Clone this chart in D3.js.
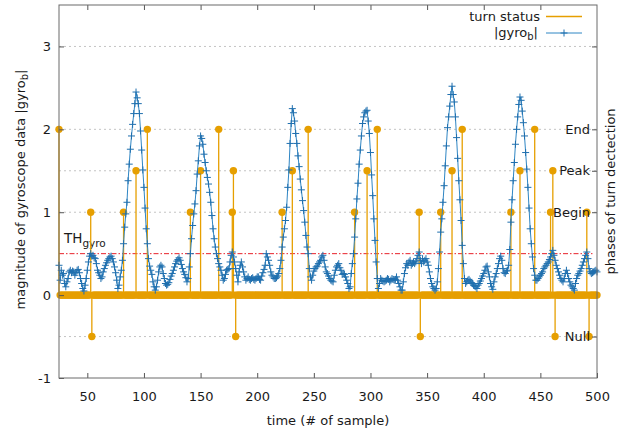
<!DOCTYPE html>
<html><head><meta charset="utf-8">
<script src="https://cdn.jsdelivr.net/npm/d3@7"></script>
<style>
body{margin:0;background:#fff}
svg{display:block}
text{font-family:"DejaVu Sans",Verdana,sans-serif;fill:#1a1a1a}
</style>
</head><body>
<svg id="chart" width="630" height="434"></svg>
<script>
// ---------------- data ----------------
const firstSample = 25;
const lastSample = 500;
// |gyro_b| for samples 25..500 (one value per sample)
const gyroValues = [
0.36,0.18,0.30,0.24,0.26,0.14,0.10,0.16,0.20,0.28,
0.30,0.27,0.29,0.28,0.24,0.27,0.30,0.31,0.27,0.20,
0.14,0.08,0.05,0.12,0.20,0.30,0.40,0.47,0.50,0.47,
0.48,0.45,0.44,0.38,0.30,0.27,0.24,0.20,0.22,0.28,
0.32,0.36,0.39,0.42,0.44,0.46,0.47,0.44,0.40,0.34,
0.27,0.18,0.08,0.12,0.22,0.30,0.42,0.62,0.82,0.98,
1.12,1.38,1.58,1.76,1.92,2.06,2.19,2.31,2.45,2.38,
2.31,2.19,1.98,1.75,1.51,1.30,1.05,0.80,0.62,0.44,
0.35,0.30,0.25,0.16,0.10,0.06,0.10,0.18,0.28,0.34,
0.36,0.34,0.26,0.20,0.14,0.12,0.13,0.15,0.19,0.23,
0.26,0.30,0.34,0.38,0.41,0.43,0.45,0.42,0.37,0.32,
0.28,0.25,0.21,0.16,0.20,0.34,0.50,0.68,0.84,0.98,
1.10,1.26,1.46,1.62,1.80,1.92,1.89,1.82,1.70,1.60,
1.50,1.42,1.34,1.24,1.12,0.96,0.80,0.68,0.58,0.50,
0.44,0.38,0.34,0.30,0.24,0.18,0.20,0.25,0.30,0.31,
0.32,0.40,0.48,0.52,0.46,0.40,0.32,0.24,0.16,0.28,
0.36,0.40,0.34,0.28,0.22,0.18,0.20,0.22,0.19,0.18,
0.20,0.21,0.19,0.18,0.20,0.22,0.22,0.19,0.18,0.23,
0.27,0.31,0.36,0.50,0.46,0.42,0.36,0.28,0.24,0.22,
0.20,0.20,0.21,0.23,0.26,0.32,0.42,0.58,0.70,0.80,
0.90,1.06,1.30,1.51,1.83,2.07,2.25,2.20,2.10,1.95,
1.83,1.68,1.55,1.40,1.27,1.14,1.02,0.88,0.72,0.58,
0.50,0.32,0.22,0.18,0.24,0.29,0.32,0.34,0.35,0.38,
0.40,0.42,0.46,0.48,0.42,0.34,0.28,0.26,0.23,0.20,
0.18,0.17,0.16,0.24,0.30,0.34,0.36,0.38,0.33,0.30,
0.25,0.26,0.25,0.22,0.18,0.14,0.08,0.10,0.26,0.38,
0.50,0.70,0.92,1.16,1.35,1.58,1.75,1.92,2.07,2.15,
2.20,2.22,2.23,2.10,1.95,1.72,1.45,1.20,0.92,0.66,
0.40,0.20,0.08,0.14,0.20,0.18,0.17,0.16,0.17,0.18,
0.20,0.19,0.16,0.18,0.20,0.19,0.18,0.19,0.22,0.18,
0.14,0.10,0.06,0.06,0.16,0.26,0.33,0.38,0.36,0.40,
0.42,0.36,0.38,0.40,0.38,0.40,0.44,0.48,0.52,0.42,
0.38,0.44,0.40,0.42,0.44,0.40,0.36,0.28,0.20,0.14,
0.10,0.08,0.06,0.08,0.16,0.32,0.52,0.76,0.92,1.12,
1.32,1.56,1.80,2.02,2.15,2.28,2.42,2.52,2.42,2.33,
2.15,1.90,1.65,1.38,1.15,0.90,0.60,0.38,0.20,0.14,
0.16,0.18,0.19,0.17,0.15,0.14,0.12,0.11,0.10,0.08,
0.12,0.14,0.17,0.20,0.23,0.26,0.30,0.34,0.35,0.28,
0.22,0.14,0.10,0.07,0.16,0.22,0.26,0.32,0.38,0.44,
0.47,0.42,0.32,0.27,0.26,0.29,0.30,0.36,0.55,0.88,
1.15,1.38,1.60,1.82,2.00,2.15,2.30,2.39,2.35,2.22,
2.08,1.92,1.72,1.52,1.30,1.05,0.80,0.62,0.46,0.32,
0.24,0.18,0.18,0.20,0.22,0.24,0.26,0.28,0.32,0.34,
0.36,0.38,0.40,0.43,0.46,0.50,0.54,0.48,0.42,0.36,
0.32,0.28,0.24,0.20,0.18,0.16,0.20,0.26,0.30,0.26,
0.20,0.16,0.12,0.10,0.08,0.06,0.14,0.20,0.24,0.26,
0.29,0.32,0.36,0.40,0.44,0.48,0.52,0.44,0.32,0.28,
0.26,0.27,0.28,0.29,0.30,0.28
];
// turn status events: [sample, phase value]; all other samples are 0
const turnEventSamples = [25,53,54,82,93,103,141,150,166,178,179,181,222,231,245,286,297,306,343,344,362,372,381,424,432,445,459,461,463,491,493];
const turnEventValues  = [2,1,-0.5,1,1.5,2,1,1.5,2,1,1.5,-0.5,1,1.5,2,1,1.5,2,1,-0.5,1,1.5,2,1,1.5,2,1,1.5,-0.5,1,-0.5];
const threshold = 0.5;
const xTickValues = [50,100,150,200,250,300,350,400,450,500];
const yTickValues = [-1,0,1,2,3];
const phaseTickValues = [2,1.5,1,-0.5];
const phaseTickLabels = ["End","Peak","Begin","Null"];

// ---------------- chart ----------------
const svg = d3.select("#chart");
const L = 59, R = 597, T = 5, B = 378;
const x = d3.scaleLinear().domain([firstSample, lastSample]).range([L, R]);
const y = d3.scaleLinear().domain([-1, 3.5]).range([B, T]);

const samples = d3.range(firstSample, lastSample + 1);
const gyro = samples.map((s, i) => ({s, v: gyroValues[i]}));
const eventMap = new Map(turnEventSamples.map((s, i) => [s, turnEventValues[i]]));
const status = samples.map(s => ({s, v: eventMap.has(s) ? eventMap.get(s) : 0}));

const ORANGE = "#e69f00", BLUE_LINE = "#2f86c4", BLUE_PT = "#1f6fae";
const FS = 13;

// grid (y and y2)
const gridVals = Array.from(new Set([3, 2, 1, ...phaseTickValues]));
svg.append("g").selectAll("line").data(gridVals).join("line")
  .attr("x1", L).attr("x2", R)
  .attr("y1", d => y(d)).attr("y2", d => y(d))
  .attr("stroke", "#c4c4c4").attr("stroke-width", 1).attr("stroke-dasharray", "2,3");

// threshold line
svg.append("line")
  .attr("x1", x(firstSample)).attr("x2", x(496))
  .attr("y1", y(threshold)).attr("y2", y(threshold))
  .attr("stroke", "#e8202a").attr("stroke-width", 1).attr("stroke-dasharray", "5,2,1.5,2");

// TH_gyro label
const th = svg.append("text").attr("x", 64).attr("y", 243).attr("font-size", FS + 0.5);
th.append("tspan").text("TH");
th.append("tspan").attr("dy", 4).attr("font-size", 10.5).text("gyro");

// turn status impulses
svg.append("g").selectAll("line").data(status.filter(d => d.v !== 0)).join("line")
  .attr("x1", d => x(d.s)).attr("x2", d => x(d.s))
  .attr("y1", y(0)).attr("y2", d => y(d.v))
  .attr("stroke", ORANGE).attr("stroke-width", 1.3);
// turn status points
svg.append("g").selectAll("circle").data(status).join("circle")
  .attr("cx", d => x(d.s)).attr("cy", d => y(d.v)).attr("r", 3.7)
  .attr("fill", ORANGE);

// gyro line
svg.append("path").datum(gyro)
  .attr("d", d3.line().x(d => x(d.s)).y(d => y(d.v)))
  .attr("fill", "none").attr("stroke", BLUE_LINE).attr("stroke-width", 1);
// gyro + markers
const plus = "M-3.5,0H3.5M0,-3.5V3.5";
svg.append("g").selectAll("path").data(gyro).join("path")
  .attr("transform", d => `translate(${x(d.s)},${y(d.v)})`)
  .attr("d", plus).attr("stroke", BLUE_PT).attr("stroke-width", 1).attr("fill", "none");

// axes
function styleAxis(g) {
  g.select(".domain").remove();
  g.selectAll(".tick line").attr("stroke", "#555");
  g.selectAll(".tick text").attr("font-size", FS).attr("font-family", "DejaVu Sans, Verdana, sans-serif").attr("fill", "#1a1a1a");
}
svg.append("g").attr("transform", `translate(0,${B})`)
  .call(d3.axisBottom(x).tickValues(xTickValues).tickSize(-5).tickPadding(14).tickFormat(d => String(d)))
  .call(styleAxis);
svg.append("g").attr("transform", `translate(0,${T})`)
  .call(d3.axisTop(x).tickValues(xTickValues.filter(v => v < lastSample)).tickSize(-5).tickFormat(""))
  .call(styleAxis);
svg.append("g").attr("transform", `translate(${L},0)`)
  .call(d3.axisLeft(y).tickValues(yTickValues).tickSize(-5).tickPadding(8).tickFormat(d => String(d)))
  .call(styleAxis);
svg.append("g").attr("transform", `translate(${R},0)`)
  .call(d3.axisRight(y).tickValues([3]).tickSize(-5).tickFormat(""))
  .call(styleAxis);
const y2Axis = svg.append("g").attr("transform", `translate(${R},0)`)
  .call(d3.axisRight(y).tickValues(phaseTickValues).tickSize(-5).tickPadding(-7)
    .tickFormat((d, i) => phaseTickLabels[i]))
  .call(styleAxis);
y2Axis.selectAll(".tick text").attr("text-anchor", "end");

// frame
svg.append("rect").attr("x", L).attr("y", T).attr("width", R - L).attr("height", B - T)
  .attr("fill", "none").attr("stroke", "#6a6a6a").attr("stroke-width", 1);

// axis titles
svg.append("text").attr("x", (L + R) / 2).attr("y", 425).attr("text-anchor", "middle")
  .attr("font-size", FS).text("time (# of sample)");
const yl = svg.append("text").attr("transform", `translate(25,${(T + B) / 2 - 2}) rotate(-90)`)
  .attr("text-anchor", "middle").attr("font-size", FS);
yl.append("tspan").text("magnitude of gyroscope data |gyro");
yl.append("tspan").attr("dy", 3).attr("font-size", 10).text("b");
yl.append("tspan").attr("dy", -3).text("|");
svg.append("text").attr("transform", `translate(615,${(T + B) / 2}) rotate(-90)`)
  .attr("text-anchor", "middle").attr("font-size", FS).text("phases of turn dectection");

// legend
const lg = svg.append("g");
lg.append("text").attr("x", 540).attr("y", 21).attr("text-anchor", "end").attr("font-size", FS).text("turn status");
lg.append("line").attr("x1", 546).attr("x2", 582).attr("y1", 16.5).attr("y2", 16.5)
  .attr("stroke", ORANGE).attr("stroke-width", 1.3);
const lt = lg.append("text").attr("x", 538).attr("y", 37).attr("text-anchor", "end").attr("font-size", FS);
lt.append("tspan").text("|gyro");
lt.append("tspan").attr("dy", 3).attr("font-size", 10).text("b");
lt.append("tspan").attr("dy", -3).text("|");
lg.append("line").attr("x1", 546).attr("x2", 582).attr("y1", 33).attr("y2", 33)
  .attr("stroke", BLUE_LINE).attr("stroke-width", 1);
lg.append("path").attr("transform", "translate(564,33)").attr("d", plus)
  .attr("stroke", BLUE_PT).attr("stroke-width", 1).attr("fill", "none");
</script>
</body></html>
